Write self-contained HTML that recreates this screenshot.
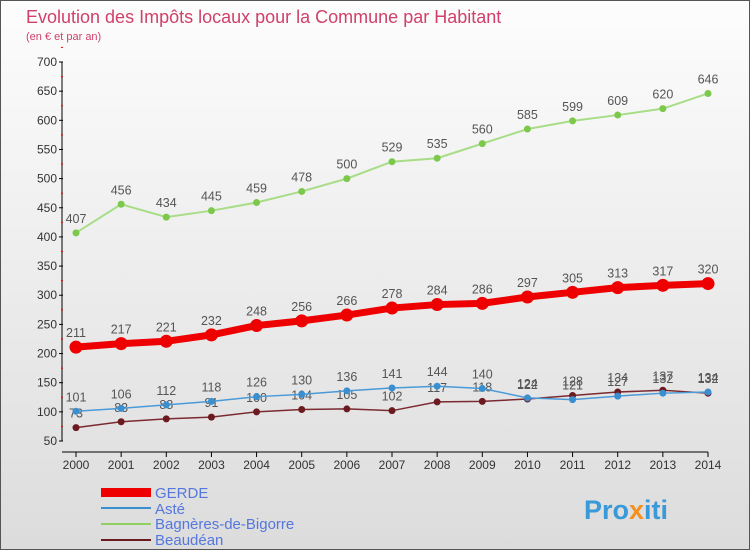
<!DOCTYPE html>
<html><head><meta charset="utf-8"><style>
body{margin:0;width:750px;height:550px;overflow:hidden;font-family:"Liberation Sans",sans-serif}
#wrap{position:relative;width:748px;height:548px;border:1px solid #555;background:linear-gradient(#fdfdfd,#dcdcdc)}
</style></head><body>
<div id="wrap">
<svg id="c" width="748" height="548" xmlns="http://www.w3.org/2000/svg">
<text x="25" y="22" font-size="18" fill="#d0406a">Evolution des Impôts locaux pour la Commune par Habitant</text>
<text x="25" y="39" font-size="11" fill="#d0406a">(en € et par an)</text>
<g id="axes"></g><g id="series"></g>
<g font-size="15">
<rect x="100" y="487" width="50" height="9" fill="#e00"/>
<text x="154" y="497" fill="#5577dd">GERDE</text>
<rect x="100" y="506" width="50" height="2" fill="#3a8fd0"/>
<text x="154" y="513" fill="#5577dd">Asté</text>
<rect x="100" y="522" width="50" height="2" fill="#90d060"/>
<text x="154" y="528" fill="#5577dd">Bagnères-de-Bigorre</text>
<rect x="100" y="538" width="50" height="2" fill="#6b1a20"/>
<text x="154" y="544" fill="#5577dd">Beaudéan</text>
</g>
<text x="583" y="518" font-size="27" font-weight="bold" fill="#3a9ad9">Pro<tspan fill="#f39020">x</tspan>iti</text>
</svg></div>
<script>
const years=[2000,2001,2002,2003,2004,2005,2006,2007,2008,2009,2010,2011,2012,2013,2014];
const gerde=[211,217,221,232,248,256,266,278,284,286,297,305,313,317,320];
const aste=[101,106,112,118,126,130,136,141,144,140,124,121,127,132,134];
const bagneres=[407,456,434,445,459,478,500,529,535,560,585,599,609,620,646];
const beaudean=[73,83,88,91,100,104,105,102,117,118,122,128,134,137,132];
const yTicks=[50,100,150,200,250,300,350,400,450,500,550,600,650,700];
const NS="http://www.w3.org/2000/svg";
const x=i=>75+i*(632/14);
const y=v=>440-(v-50)*(379/650);
function mk(tag,attrs,parent,text){const e=document.createElementNS(NS,tag);for(const k in attrs)e.setAttribute(k,attrs[k]);if(text!==undefined)e.textContent=text;parent.appendChild(e);return e;}
const ax=document.getElementById('axes'),se=document.getElementById('series');
let a=mk('line',{x1:61,y1:61,x2:61,y2:440,stroke:'#000'},ax);

a=mk('line',{x1:61,y1:451,x2:707,y2:451,stroke:'#000'},ax);

yTicks.forEach(t=>{mk('line',{x1:58,y1:y(t),x2:62,y2:y(t),stroke:'#000'},ax);
mk('line',{x1:60,y1:y(t+25),x2:62,y2:y(t+25),stroke:'#e00'},ax);
const l=mk('text',{x:56,y:y(t)+4,'font-size':12,'text-anchor':'end',fill:'#333'},ax,t);
});
years.forEach((yr,i)=>{mk('line',{x1:x(i),y1:451,x2:x(i),y2:456,stroke:'#000'},ax);
const l=mk('text',{x:x(i),y:468,'font-size':12,'text-anchor':'middle',fill:'#333'},ax,yr);
});
function series(vals,color,w,r,fill,name){
const p=mk('polyline',{points:vals.map((v,i)=>x(i)+','+y(v)).join(' '),fill:'none',stroke:color,'stroke-width':w},se);

vals.forEach((v,i)=>{const c=mk('circle',{cx:x(i),cy:y(v),r:r,fill:fill},se);

const t=mk('text',{x:x(i),y:y(v)-10,'font-size':12.5,'text-anchor':'middle',fill:'#555'},se,v);
});}
series(bagneres,'#a8dd88',2,3.5,'#7cc84a','bagneres');
series(beaudean,'#7a2a30',1.5,3.5,'#6b1a20','beaudean');
series(aste,'#4a9ad8',1.5,3.5,'#3a8fd0','aste');
series(gerde,'#e00',7,6.5,'#e00','gerde');
</script>
</body></html>
